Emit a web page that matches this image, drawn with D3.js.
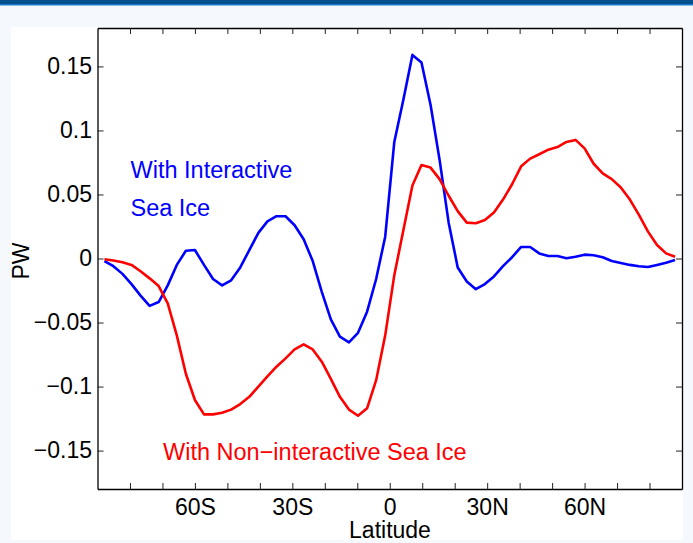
<!DOCTYPE html>
<html>
<head>
<meta charset="utf-8">
<script src="https://cdn.jsdelivr.net/npm/d3@7"></script>
<style>
  body { margin: 0; background: #f5f8fd; }
  svg { display: block; }
</style>
</head>
<body>
<svg id="chart" width="693" height="543"></svg>
<script>
// T42 gaussian latitudes (S -> N)
const lats = [-87.86, -85.10, -82.31, -79.53, -76.74, -73.95, -71.16, -68.37, -65.58, -62.79,
  -60.00, -57.21, -54.42, -51.63, -48.84, -46.04, -43.25, -40.46, -37.67, -34.88,
  -32.09, -29.30, -26.51, -23.72, -20.93, -18.14, -15.35, -12.56, -9.77, -6.98,
  -4.19, -1.40, 1.40, 4.19, 6.98, 9.77, 12.56, 15.35, 18.14, 20.93,
  23.72, 26.51, 29.30, 32.09, 34.88, 37.67, 40.46, 43.25, 46.04, 48.84,
  51.63, 54.42, 57.21, 60.00, 62.79, 65.58, 68.37, 71.16, 73.95, 76.74,
  79.53, 82.31, 85.10, 87.86];

// with interactive sea ice (blue)
const interactive = [-0.002, -0.006, -0.012, -0.020, -0.029, -0.037, -0.034, -0.021, -0.005, 0.006,
  0.0066, -0.005, -0.016, -0.021, -0.017, -0.007, 0.0066, 0.020, 0.029, 0.033,
  0.033, 0.026, 0.015, -0.002, -0.026, -0.0475, -0.061, -0.0655, -0.058, -0.0415,
  -0.016, 0.017, 0.091, 0.124, 0.159, 0.153, 0.120, 0.077, 0.028, -0.007,
  -0.018, -0.024, -0.020, -0.014, -0.006, 0.001, 0.009, 0.009, 0.004, 0.002,
  0.002, 0.0002, 0.0014, 0.003, 0.0025, 0.001, -0.002, -0.0035, -0.005, -0.006,
  -0.0066, -0.005, -0.0033, -0.0012];

// with non-interactive sea ice (red)
const nonInteractive = [-0.0006, -0.0015, -0.003, -0.005, -0.010, -0.0155, -0.0215, -0.035, -0.060, -0.090,
  -0.1105, -0.1217, -0.1217, -0.1205, -0.118, -0.1137, -0.108, -0.100, -0.092, -0.0845,
  -0.078, -0.071, -0.067, -0.071, -0.0806, -0.094, -0.108, -0.118, -0.1228, -0.117,
  -0.095, -0.060, -0.013, 0.022, 0.057, 0.073, 0.071, 0.062, 0.049, 0.037,
  0.028, 0.0275, 0.030, 0.036, 0.046, 0.058, 0.072, 0.078, 0.0814, 0.085,
  0.087, 0.091, 0.0926, 0.086, 0.074, 0.0665, 0.062, 0.0555, 0.046, 0.034,
  0.021, 0.0105, 0.004, 0.0014];

const xTicks = [-80, -70, -60, -50, -40, -30, -20, -10, 0, 10, 20, 30, 40, 50, 60, 70, 80];
const xLabels = {"-60": "60S", "-30": "30S", "0": "0", "30": "30N", "60": "60N"};
const yTicks = [-0.15, -0.1, -0.05, 0, 0.05, 0.1, 0.15];

const svg = d3.select('#chart');
const font = 'Liberation Sans, Arial, Helvetica, sans-serif';

// page frame
svg.append('rect').attr('x', 0).attr('y', 0).attr('width', 693).attr('height', 4).attr('fill', '#00508c');
svg.append('rect').attr('x', 0).attr('y', 4).attr('width', 693).attr('height', 1.5).attr('fill', '#1a78d0');
svg.append('rect').attr('x', 11).attr('y', 27).attr('width', 672).attr('height', 513).attr('fill', 'white');

const plotL = 97.5, plotR = 682, plotT = 28, plotB = 489;
const x = d3.scaleLinear().domain([-90, 90]).range([plotL, plotR]);
const y = d3.scaleLinear().domain([-0.18, 0.18]).range([plotB, plotT]);

function fmtY(v) {
  if (v === 0) return '0';
  return (v < 0 ? '\u2212' : '') + String(Math.abs(v));
}

// axes, ticks pointing inward
const gB = svg.append('g').attr('transform', `translate(0,${plotB})`)
  .call(d3.axisBottom(x).tickValues(xTicks).tickSizeInner(-6).tickSizeOuter(0).tickPadding(10)
    .tickFormat(d => xLabels[String(d)] || ''));
const gT = svg.append('g').attr('transform', `translate(0,${plotT})`)
  .call(d3.axisTop(x).tickValues(xTicks).tickSizeInner(-6).tickSizeOuter(0).tickFormat(''));
const gL = svg.append('g').attr('transform', `translate(${plotL},0)`)
  .call(d3.axisLeft(y).tickValues(yTicks).tickSizeInner(-6).tickSizeOuter(0).tickPadding(5.5).tickFormat(fmtY));
const gR = svg.append('g').attr('transform', `translate(${plotR},0)`)
  .call(d3.axisRight(y).tickValues(yTicks).tickSizeInner(-6).tickSizeOuter(0).tickFormat(''));

[gB, gT, gL, gR].forEach(g => {
  g.selectAll('.domain').attr('stroke', '#000').attr('stroke-width', 1.3);
  g.selectAll('.tick line').attr('stroke', '#222').attr('stroke-width', 1);
  g.selectAll('.tick text').attr('fill', '#000').attr('font-size', 23).attr('font-family', font);
});

// curves
const line = d3.line().x((d, i) => x(lats[i])).y(d => y(d));
svg.append('path').datum(interactive).attr('d', line)
  .attr('fill', 'none').attr('stroke', '#0000ff').attr('stroke-width', 2.6).attr('stroke-linejoin', 'round');
svg.append('path').datum(nonInteractive).attr('d', line)
  .attr('fill', 'none').attr('stroke', '#ff0000').attr('stroke-width', 2.6).attr('stroke-linejoin', 'round');

// labels
svg.append('text').attr('x', 390).attr('y', 538).attr('text-anchor', 'middle')
  .attr('font-family', font).attr('font-size', 23).text('Latitude');
svg.append('text').attr('transform', 'translate(29,261) rotate(-90)').attr('text-anchor', 'middle')
  .attr('font-family', font).attr('font-size', 23).text('PW');

svg.append('text').attr('x', 130.5).attr('y', 177.5).attr('fill', '#0000ff')
  .attr('font-family', font).attr('font-size', 23.5).text('With Interactive');
svg.append('text').attr('x', 130.5).attr('y', 216).attr('fill', '#0000ff')
  .attr('font-family', font).attr('font-size', 23.5).text('Sea Ice');
svg.append('text').attr('x', 163).attr('y', 459.5).attr('fill', '#ff0000')
  .attr('font-family', font).attr('font-size', 23.5).text('With Non\u2212interactive Sea Ice');
</script>
</body>
</html>
